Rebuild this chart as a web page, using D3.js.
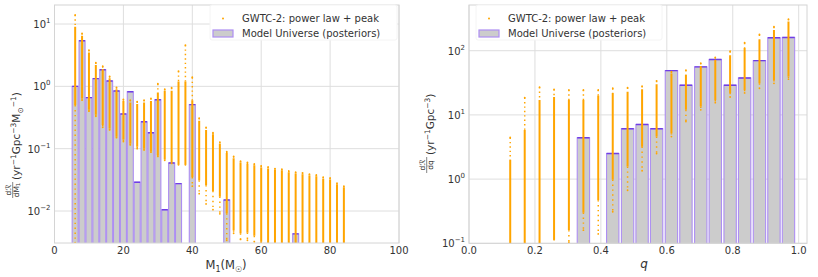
<!DOCTYPE html>
<html><head><meta charset="utf-8">
<script src="https://cdn.jsdelivr.net/npm/d3@7"></script>
<style>
body{margin:0;background:#fff}
text{font-family:"DejaVu Sans",sans-serif;fill:#333}
</style>
</head><body><svg id="c" width="818" height="277"></svg>
<script>
// ---------- DATA ----------
// Left panel: primary mass M1
const m1Ticks = [0, 20, 40, 60, 80, 100];
const m1YTicks = [1e-2, 1e-1, 1e0, 1e1];
const m1BarCenters = [6,8,10,12,14,16,18,20,22,24,26,28,30,32,34,36,40,50,70];
const m1BarValues  = [1.0,5.4,0.66,1.33,1.85,1.22,0.84,0.36,0.82,0.029,0.27,0.18,0.61,0.0105,0.059,0.0275,0.51,0.015,0.0043];
const m1DotX   = [6,8,10,12,14,16,18,20,22,24,26,28,30,32,34,36,38,40,42,44,46,48,50,52,54,56,58,60,62,64,66,68,70,72,74,76,78,80,82,84];
const m1DotMax = [14,7.1,3.8,2.4,2.1,1.45,0.96,0.62,0.6,0.57,0.6,0.64,1.1,0.9,0.95,1.76,4.6,1.4,0.31,0.22,0.18,0.127,0.0895,0.075,0.063,0.06,0.057,0.053,0.051,0.048,0.047,0.044,0.042,0.041,0.039,0.038,0.035,0.034,0.028,0.025];
const m1DotHi  = [9,6.5,3.5,2.2,1.9,1.35,0.9,0.58,0.55,0.52,0.55,0.58,0.8,0.85,0.85,1.2,1.2,0.6,0.28,0.2,0.17,0.12,0.085,0.07,0.06,0.057,0.054,0.05,0.048,0.046,0.045,0.042,0.04,0.039,0.037,0.036,0.033,0.032,0.027,0.024];
const m1DotLo  = [0.5,0.64,0.42,0.35,0.24,0.21,0.155,0.14,0.12,0.107,0.1,0.09,0.079,0.067,0.06,0.056,0.056,0.035,0.031,0.026,0.021,0.017,0.0092,0.0049,0.0044,0.0045,0.004,0.0032,0.0031,0.0031,0.0031,0.0031,0.0031,0.0031,0.0031,0.0031,0.0031,0.0031,0.0031,0.0031];
const m1DotMin = [0.0031,0.6,0.4,0.33,0.22,0.2,0.15,0.13,0.115,0.1,0.095,0.088,0.075,0.065,0.058,0.055,0.055,0.025,0.019,0.013,0.0105,0.009,0.0034,0.0044,0.0035,0.0034,0.0032,0.0031,0.0031,0.0031,0.0031,0.0031,0.0031,0.0031,0.0031,0.0031,0.0031,0.0031,0.0031,0.0031];

// Right panel: mass ratio q
const qTicks = [0.0, 0.2, 0.4, 0.6, 0.8, 1.0];
const qYTicks = [1e-1, 1e0, 1e1, 1e2];
const qBarCenters = [0.347,0.436,0.481,0.525,0.569,0.614,0.658,0.703,0.747,0.792,0.836,0.881,0.925,0.969];
const qBarValues  = [4.4,2.5,6.1,7.1,6.1,49,29,56,73,29,37.6,70,159,161];
const qDotX   = [0.125,0.169,0.214,0.258,0.303,0.347,0.392,0.436,0.481,0.525,0.569,0.614,0.658,0.703,0.747,0.792,0.836,0.881,0.925,0.969];
const qDotMax = [4.45,18.6,27,25,24.5,24.5,24.5,26,26.6,28,34,47,50,64,79,98,133,179,236,310];
const qDotHi  = [2.0,5.8,17,19,17,17,20,22,23,25,30,44,42,58,72,85,110,150,210,285];
const qDotLo  = [0.1,0.1,0.1,0.114,0.16,0.3,0.47,0.98,1.57,3.2,4.6,5.2,12,13.5,17,22,24.5,31,35,39.5];
const qDotMin = [0.1,0.1,0.1,0.114,0.104,0.16,0.14,0.31,0.67,1.35,2.5,4.6,7.9,12,15.5,19,22,26,31,36];

const legendLabels = ["GWTC-2: power law + peak", "Model Universe (posteriors)"];

// ---------- DRAW ----------
const svg = d3.select("#c");
const ORANGE = "#ffa500", BAR = "#cccccc", EDGE = "#ad8ef2", TOP = "#6f3ee6", GRID = "#dedede";

function sup(sel, base, exp) {
  sel.text(null);
  sel.append("tspan").text(base);
  sel.append("tspan").attr("dy", -5).attr("font-size", 7).text(exp);
}

function panel(cfg) {
  const g = svg.append("g");
  const x = d3.scaleLinear().domain(cfg.xDomain).range([cfg.x0, cfg.x1]);
  const y = d3.scaleLog().domain(cfg.yDomain).range([cfg.y1, cfg.y0]);
  const clipId = "clip" + cfg.id;
  svg.append("clipPath").attr("id", clipId).append("rect")
    .attr("x", cfg.x0).attr("y", cfg.y0).attr("width", cfg.x1 - cfg.x0).attr("height", cfg.y1 - cfg.y0);

  // grid
  g.append("g").selectAll("line").data(cfg.xTicks).join("line")
    .attr("x1", d => x(d)).attr("x2", d => x(d)).attr("y1", cfg.y0).attr("y2", cfg.y1)
    .attr("stroke", GRID).attr("stroke-width", 1);
  g.append("g").selectAll("line").data(cfg.yTicks).join("line")
    .attr("y1", d => y(d)).attr("y2", d => y(d)).attr("x1", cfg.x0).attr("x2", cfg.x1)
    .attr("stroke", GRID).attr("stroke-width", 1);

  const plot = g.append("g").attr("clip-path", `url(#${clipId})`);
  // bars
  const bw = cfg.barWidth;
  const bars = plot.append("g").selectAll("g").data(cfg.barCenters.map((c, i) => ({c, v: cfg.barValues[i]}))).join("g");
  bars.append("rect")
    .attr("x", d => x(d.c - bw / 2)).attr("width", d => x(d.c + bw / 2) - x(d.c - bw / 2))
    .attr("y", d => y(d.v)).attr("height", d => cfg.y1 + 2 - y(d.v))
    .attr("fill", BAR).attr("stroke", EDGE).attr("stroke-width", 1.1);
  bars.append("line")
    .attr("x1", d => x(d.c - bw / 2)).attr("x2", d => x(d.c + bw / 2))
    .attr("y1", d => y(d.v)).attr("y2", d => y(d.v))
    .attr("stroke", TOP).attr("stroke-width", 1.4);

  // dot columns
  const cols = cfg.dotX.map((xx, i) => ({x: xx, max: cfg.dotMax[i], hi: cfg.dotHi[i], lo: cfg.dotLo[i], min: cfg.dotMin[i]}));
  const dg = plot.append("g").selectAll("g").data(cols).join("g");
  dg.append("line").attr("x1", d => x(d.x)).attr("x2", d => x(d.x))
    .attr("y1", d => y(d.max)).attr("y2", d => y(d.hi))
    .attr("stroke", ORANGE).attr("stroke-width", 1.5).attr("stroke-dasharray", "1.4,3");
  dg.append("line").attr("x1", d => x(d.x)).attr("x2", d => x(d.x))
    .attr("y1", d => y(d.hi)).attr("y2", d => y(d.lo))
    .attr("stroke", ORANGE).attr("stroke-width", cfg.dotW);
  dg.append("line").attr("x1", d => x(d.x)).attr("x2", d => x(d.x))
    .attr("y1", d => y(d.lo)).attr("y2", d => y(d.min))
    .attr("stroke", ORANGE).attr("stroke-width", 1.5).attr("stroke-dasharray", "1.4,3.5");
  dg.append("circle").attr("cx", d => x(d.x)).attr("cy", d => y(d.max)).attr("r", 0.9).attr("fill", ORANGE);
  dg.append("circle").attr("cx", d => x(d.x)).attr("cy", d => y(d.min)).attr("r", 0.9).attr("fill", ORANGE);

  // frame
  g.append("rect").attr("x", cfg.x0).attr("y", cfg.y0).attr("width", cfg.x1 - cfg.x0).attr("height", cfg.y1 - cfg.y0)
    .attr("fill", "none").attr("stroke", "#d4d4d4").attr("stroke-width", 1);

  // tick labels
  g.append("g").selectAll("text").data(cfg.xTicks).join("text")
    .attr("x", d => x(d)).attr("y", cfg.y1 + 11).attr("text-anchor", "middle").attr("font-size", 10)
    .text(cfg.xFmt);
  g.append("g").selectAll("text").data(cfg.yTicks).join("text")
    .attr("x", cfg.x0 - 4).attr("y", d => y(d) + 4).attr("text-anchor", "end").attr("font-size", 10)
    .each(function(d) { sup(d3.select(this), "10", String(Math.round(Math.log10(d))).replace("-", "\u2212")); });

  // legend
  const L = cfg.legend;
  const lg = g.append("g");
  lg.append("rect").attr("x", L.x).attr("y", L.y).attr("width", L.w).attr("height", 35)
    .attr("fill", "#fff").attr("stroke", "#f4f4f4").attr("rx", 2);
  lg.append("circle").attr("cx", L.x + 13).attr("cy", L.y + 13.5).attr("r", 1).attr("fill", ORANGE);
  lg.append("rect").attr("x", L.x + 3).attr("y", L.y + 25).attr("width", 20).attr("height", 7)
    .attr("fill", BAR).attr("stroke", EDGE).attr("stroke-width", 1.2);
  lg.append("text").attr("x", L.x + 32).attr("y", L.y + 17).attr("font-size", 10).text(legendLabels[0]);
  lg.append("text").attr("x", L.x + 32).attr("y", L.y + 32).attr("font-size", 10).text(legendLabels[1]);
  return {x, y};
}

panel({
  id: "L", x0: 54.5, x1: 399, y0: 5, y1: 243,
  xDomain: [0, 100], yDomain: [Math.pow(10, -2.513), Math.pow(10, 1.305)],
  xTicks: m1Ticks, yTicks: m1YTicks, xFmt: d => d,
  barCenters: m1BarCenters, barValues: m1BarValues, barWidth: 1.75,
  dotX: m1DotX, dotMax: m1DotMax, dotHi: m1DotHi, dotLo: m1DotLo, dotMin: m1DotMin, dotW: 2.0,
  legend: {x: 210, y: 5, w: 187}
});
panel({
  id: "R", x0: 469, x1: 807, y0: 5, y1: 243.3,
  xDomain: [0, 1.0252], yDomain: [0.1, Math.pow(10, 2.712)],
  xTicks: qTicks, yTicks: qYTicks, xFmt: d => d.toFixed(1),
  barCenters: qBarCenters, barValues: qBarValues, barWidth: 0.0375,
  dotX: qDotX, dotMax: qDotMax, dotHi: qDotHi, dotLo: qDotLo, dotMin: qDotMin, dotW: 2.0,
  legend: {x: 476, y: 5, w: 186}
});

// axis labels
const xl = svg.append("text").attr("x", 226).attr("y", 269).attr("text-anchor", "middle").attr("font-size", 11.5);
xl.append("tspan").text("M");
xl.append("tspan").attr("font-size", 8).attr("dy", 2.5).text("1");
xl.append("tspan").attr("dy", -2.5).text("(M");
xl.append("tspan").attr("font-size", 8).attr("dy", 2.5).text("\u2609");
xl.append("tspan").attr("dy", -2.5).text(")");

svg.append("text").attr("x", 644).attr("y", 268).attr("text-anchor", "middle").attr("font-size", 12)
  .attr("font-style", "italic").text("q");

function ylabel(tx, cy, start, denom, parts) {
  const g = svg.append("g").attr("transform", `translate(0,${cy}) rotate(-90)`);
  // fraction
  g.append("text").attr("x", start + 9).attr("y", tx - 9).attr("font-size", 7.5).attr("text-anchor", "middle").text("d\u211B");
  const dt = g.append("text").attr("x", start + 9).attr("y", tx - 1.5).attr("font-size", 7.5).attr("text-anchor", "middle");
  dt.append("tspan").text(denom[0]);
  if (denom[1]) dt.append("tspan").attr("font-size", 5.5).attr("dy", 1.5).text(denom[1]);
  g.append("line").attr("x1", start + 1).attr("x2", start + 17).attr("y1", tx - 7.3).attr("y2", tx - 7.3)
    .attr("stroke", "#333").attr("stroke-width", 0.6);
  const t = g.append("text").attr("x", start + 19).attr("y", tx).attr("font-size", 10.5);
  parts.forEach(p => {
    const s = t.append("tspan").text(p.t);
    if (p.sup) s.attr("font-size", 7.5).attr("dy", -4.5);
    else if (p.sub) s.attr("font-size", 7.5).attr("dy", 2.5);
    if (p.back) s.attr("dy", p.back);
  });
}
ylabel(20, 133, -66, ["dM", "1"], [
  {t: "(yr"}, {t: "\u22121", sup: true}, {t: "Gpc", back: 4.5}, {t: "\u22123", sup: true},
  {t: "M", back: 4.5}, {t: "\u2299", sub: true}, {t: "\u22121", sup: true, back: -7}, {t: ")", back: 4.5}
]);
ylabel(434, 126, -48, ["dq"], [
  {t: "(yr"}, {t: "\u22121", sup: true}, {t: "Gpc", back: 4.5}, {t: "\u22123", sup: true}, {t: ")", back: 4.5}
]);
</script>
</body></html>
